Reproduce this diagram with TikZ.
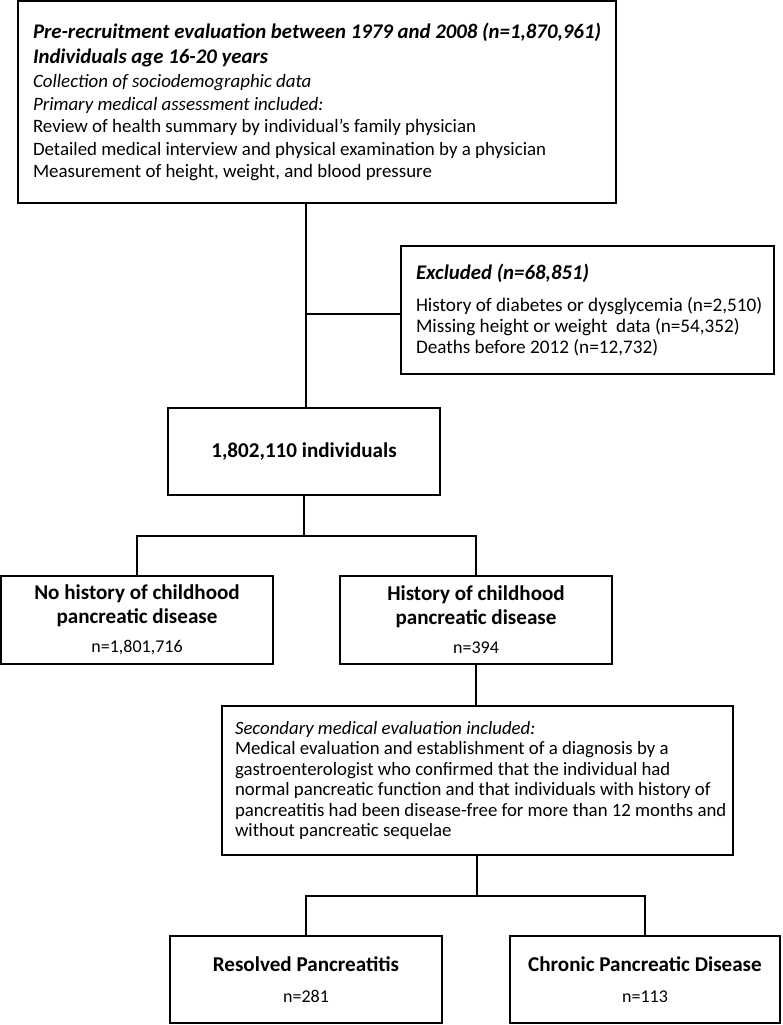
\documentclass[tikz,border=0pt]{standalone}
\usepackage{fontspec}
\setmainfont{Carlito}
\newcommand{\ttlfont}{\fontsize{20.8}{26}\selectfont\bfseries\itshape}
\newcommand{\nfont}{\fontsize{18}{22}\selectfont}
\begin{document}
\begin{tikzpicture}[x=1pt,y=-1pt,
  box/.style={draw=black, line width=1.4pt, inner sep=0pt, fill=white},
  conn/.style={draw=black, line width=1.4pt},
  topf/.style={font=\fontsize{18.9}{22.6}\selectfont},
  exf/.style={font=\fontsize{19.2}{21}\selectfont},
  secf/.style={font=\fontsize{18.8}{20.4}\selectfont},
  hdf/.style={font=\fontsize{21.1}{24}\selectfont\bfseries},
]
\useasboundingbox (0,0) rectangle (782,1025);

\node[box, topf, minimum width=598pt, minimum height=202pt, text width=568pt, align=flush left] (top) at (317,102)
{\mbox{\ttlfont Pre-recruitment evaluation between 1979 and 2008 (n=1,870,961)}\\[3pt]
\mbox{\ttlfont Individuals age 16-20 years}\\[1pt]
\textit{Collection of sociodemographic data}\\
\textit{Primary medical assessment included:}\\
\mbox{Review of health summary by individual’s family physician}\\
\mbox{Detailed medical interview and physical examination by a physician}\\
\mbox{Measurement of height, weight, and blood pressure}};

\node[box, exf, minimum width=373pt, minimum height=128pt, text width=343pt, align=flush left] (excl) at (587.5,310)
{\mbox{\ttlfont Excluded (n=68,851)}\\[11pt]
\mbox{History of diabetes or dysglycemia (n=2,510)}\\
\mbox{Missing height or weight\ \ data (n=54,352)}\\
\mbox{Deaths before 2012 (n=12,732)}};

\node[box, hdf, minimum width=272pt, minimum height=87pt, align=center] (mid) at (304,451.5)
{1,802,110 individuals};

\node[box, hdf, minimum width=272pt, minimum height=88pt, align=center] (nohist) at (137,620)
{No history of childhood\\pancreatic disease\\[5pt]
{\nfont\mdseries n=1,801,716}};

\node[box, hdf, minimum width=272pt, minimum height=88pt, align=center] (hist) at (476,620)
{History of childhood\\pancreatic disease\\[5pt]
{\nfont\mdseries n=394}};

\node[box, secf, minimum width=511pt, minimum height=149pt, text width=485pt, align=flush left] (sec) at (477.5,780.5)
{\mbox{\textit{Secondary medical evaluation included:}}\\
\mbox{Medical evaluation and establishment of a diagnosis by a}\\
\mbox{gastroenterologist who confirmed that the individual had}\\
\mbox{normal pancreatic function and that individuals with history of}\\
\mbox{pancreatitis had been disease-free for more than 12 months and}\\
\mbox{without pancreatic sequelae}};

\node[box, hdf, minimum width=272pt, minimum height=87pt, align=center] (res) at (306,979.5)
{Resolved Pancreatitis\\[7pt]
{\nfont\mdseries n=281}};

\node[box, hdf, minimum width=270pt, minimum height=87pt, align=center] (chr) at (645,979.5)
{Chronic Pancreatic Disease\\[7pt]
{\nfont\mdseries n=113}};

\coordinate (j) at (306,314);
\coordinate (b1) at (304,536);
\coordinate (b2) at (477,896);

\draw[conn] (top.south -| j) -- (j) -- (j |- mid.north);
\draw[conn] (j) -- (j -| excl.west);
\draw[conn] (mid.south) -- (b1);
\draw[conn] (nohist.north) |- (b1) -| (hist.north);
\draw[conn] (hist.south) -- (hist.south |- sec.north);
\draw[conn] (sec.south -| b2) -- (b2);
\draw[conn] (res.north) |- (b2) -| (chr.north);
\end{tikzpicture}
\end{document}
